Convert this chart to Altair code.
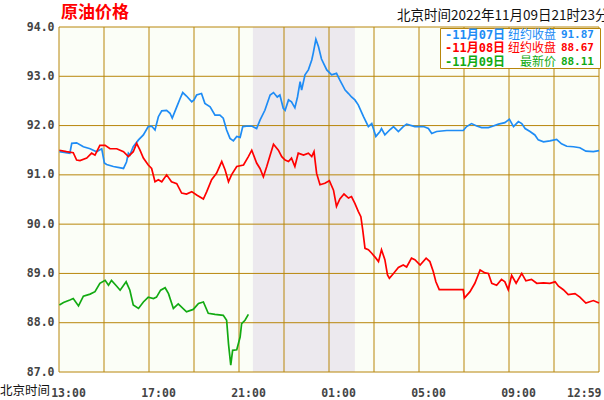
import altair as alt
import pandas as pd

# ---------------- data ----------------
# minutes since 13:00 (Beijing time), 0 .. 1440
blue_min = [1,29,34,47,65,83,100,114,121,127,145,172,180,185,189,198,212,225,238,247,
            256,265,274,287,296,302,314,323,330,340,354,360,367,380,389,403,416,429,438,447,
            456,465,474,483,490,500,514,527,536,549,563,572,582,589,598,603,612,620,629,636,
            643,647,656,665,674,678,685,692,700,714,727,740,749,763,772,780,789,798,812,825,
            834,845,856,860,869,883,892,905,918,927,949,972,985,994,1007,1034,1078,1087,1100,1114,
            1127,1145,1158,1172,1189,1201,1212,1225,1234,1243,1256,1269,1278,1292,1309,1327,1340,1354,1372,1389,
            1405,1425,1440]
blue_val = [91.47,91.44,91.64,91.65,91.57,91.53,91.47,91.53,91.24,91.21,
            91.17,91.13,91.26,91.44,91.40,91.57,91.71,91.81,91.98,91.99,
            91.91,92.18,92.30,92.31,92.25,92.15,92.38,92.55,92.67,92.60,
            92.48,92.52,92.62,92.65,92.45,92.38,92.21,92.21,92.15,91.91,
            91.74,91.69,91.78,91.76,91.98,91.99,91.99,91.94,92.11,92.31,
            92.62,92.67,92.58,92.62,92.35,92.31,92.52,92.48,92.36,92.58,
            92.89,92.72,93.03,93.13,93.33,93.47,93.75,93.60,93.35,93.13,
            93.03,93.06,92.92,92.72,92.65,92.58,92.52,92.42,92.18,91.98,
            92.04,91.78,91.88,91.94,91.81,91.92,91.98,91.88,91.98,92.03,
            91.98,91.98,91.94,91.84,91.88,91.90,91.90,91.98,92.04,91.99,
            91.96,91.96,91.99,92.03,92.06,92.13,91.98,92.08,92.04,91.94,
            91.88,91.81,91.71,91.67,91.69,91.72,91.63,91.58,91.57,91.55,
            91.48,91.47,91.49]

red_min = [1,20,38,47,56,74,87,96,109,123,136,154,172,185,198,207,216,225,238,247,
           256,265,274,287,300,314,327,340,354,367,385,394,407,420,434,443,452,460,474,492,
           505,514,527,536,545,554,563,572,585,594,603,612,620,629,638,652,665,674,680,
           687,696,709,721,732,740,749,760,772,780,789,798,805,810,816,825,834,845,852,860,
           869,876,881,892,905,918,927,940,949,963,979,989,998,1005,1014,1078,1081,1096,1109,1123,
           1136,1145,1154,1167,1180,1189,1198,1207,1219,1234,1245,1260,1274,1292,1309,1323,1332,1345,1358,1376,
           1389,1405,1425,1440]
red_val = [91.50,91.47,91.45,91.30,91.29,91.34,91.44,91.40,91.60,91.60,91.53,91.53,91.47,91.37,91.47,91.64,91.50,91.34,91.20,91.13,
           90.86,90.90,90.86,91.00,90.86,90.82,90.63,90.61,90.66,90.59,90.51,90.66,90.90,91.03,91.27,91.10,90.86,91.00,91.17,91.20,
           91.37,91.50,91.24,91.13,90.96,91.17,91.40,91.62,91.50,91.37,91.30,91.27,91.34,91.17,91.44,91.40,91.44,91.37,91.47,
           91.03,90.80,90.83,90.88,90.69,90.36,90.51,90.61,90.53,90.56,90.42,90.26,90.15,89.88,89.51,89.48,89.41,89.31,89.24,89.48,
           89.28,88.97,88.90,89.00,89.12,89.17,89.13,89.31,89.28,89.17,89.31,89.24,89.04,88.83,88.67,88.67,88.50,88.63,88.80,89.07,
           89.01,89.00,88.80,88.76,88.88,88.83,88.67,88.96,88.80,89.00,88.85,88.88,88.80,88.81,88.80,88.83,88.74,88.67,88.57,88.59,
           88.52,88.40,88.45,88.40]

green_min = [1,12,29,38,52,65,83,96,109,123,132,140,154,163,179,189,198,212,225,238,
             252,260,271,283,292,305,318,340,358,372,385,398,416,438,447,452,458,463,474,483,
             487,496,505]
green_val = [88.36,88.41,88.46,88.49,88.34,88.54,88.58,88.63,88.80,88.86,88.76,88.86,88.74,88.66,88.83,88.66,88.36,88.29,88.42,88.52,
             88.49,88.52,88.66,88.71,88.59,88.29,88.38,88.22,88.27,88.39,88.42,88.19,88.17,88.15,88.05,87.57,87.14,87.44,87.45,87.71,
             87.98,88.05,88.17]

shade_start = [517]
shade_end = [789]

x_grid = list(range(0, 1441, 120))
y_grid = [87, 88, 89, 90, 91, 92, 93, 94]
x_label_vals = [0, 240, 480, 720, 960, 1200, 1440]
x_labels = ["13:00", "17:00", "21:00", "01:00", "05:00", "09:00", "12:59"]

legend_dates = ["-11月07日", "-11月08日", "-11月09日"]
legend_kinds = ["纽约收盘", "纽约收盘", "最新价"]
legend_values = ["91.87", "88.67", "88.11"]
colors = ["#1E8CF5", "#FF0000", "#12AA12"]

title_text = "原油价格"
time_text = "北京时间2022年11月09日21时23分"
axis_caption = "北京时间"

GRID = "#B8860B"
MONO = "DejaVu Sans Mono"
CJK = "Noto Sans CJK SC"

# ---------------- chart ----------------
xscale = alt.Scale(domain=[0, 1440], nice=False, zero=False)
yscale = alt.Scale(domain=[87, 94], nice=False, zero=False)

label_expr = "{" + ",".join(f"'{v}':'{t}'" for v, t in zip(x_label_vals, x_labels)) + "}[datum.value]"

x_axis = alt.Axis(values=x_label_vals, labelExpr=label_expr, grid=False, ticks=False, domain=False,
                  labelFont=MONO, labelFontWeight="bold", labelFontSize=11.5, labelColor="#444444",
                  labelPadding=15, labelFlush=False, labelOverlap=False,
                  labelOffset={"condition": {"test": "datum.value >= 1440", "value": 2}, "value": 9},
                  labelAlign={"condition": {"test": "datum.value >= 1440", "value": "right"}, "value": "center"},
                  title=None)
y_axis = alt.Axis(values=y_grid, format=".1f", grid=False, ticks=False, domain=False,
                  labelFont=MONO, labelFontWeight="bold", labelFontSize=11.5, labelColor="#444444",
                  labelPadding=5, labelFlush=False, labelOverlap=False, title=None)

shade = alt.Chart(pd.DataFrame({"s": shade_start, "e": shade_end})).mark_rect(
    color="#ECE9EE").encode(
    x=alt.X("s:Q", scale=xscale, axis=x_axis), x2="e:Q")

vrules = alt.Chart(pd.DataFrame({"g": x_grid})).mark_rule(color=GRID, strokeWidth=1).encode(
    x=alt.X("g:Q", scale=xscale))
hrules = alt.Chart(pd.DataFrame({"g": y_grid})).mark_rule(color=GRID, strokeWidth=1).encode(
    y=alt.Y("g:Q", scale=yscale, axis=y_axis))


def series(mins, vals, color):
    df = pd.DataFrame({"m": mins, "v": vals})
    return alt.Chart(df).mark_line(color=color, strokeWidth=1.7, interpolate="linear").encode(
        x=alt.X("m:Q", scale=xscale), y=alt.Y("v:Q", scale=yscale))


def txt(s, x, y, **kw):
    return alt.Chart(pd.DataFrame({"t": [s]})).mark_text(**kw).encode(
        x=alt.value(x), y=alt.value(y), text="t:N")


layers = [shade, vrules, hrules,
          series(blue_min, blue_val, colors[0]),
          series(red_min, red_val, colors[1]),
          series(green_min, green_val, colors[2])]

# title, time stamp, bottom caption
layers.append(txt(title_text, 2, -14, align="left", baseline="middle", font=CJK,
                  fontSize=17, fontWeight="bold", color="#FF0000"))
layers.append(txt(time_text, 338, -11, align="left", baseline="middle", font=CJK,
                  fontSize=13.5, color="#111111"))
layers.append(txt(axis_caption, -59, 364, align="left", baseline="middle", font=CJK,
                  fontSize=12.5, color="#111111"))

# legend box
layers.append(alt.Chart(pd.DataFrame({"a": [0]})).mark_rect(
    fill="#FFFFFF", stroke=GRID, strokeWidth=1).encode(
    x=alt.value(381.5), x2=alt.value(541.5), y=alt.value(1.5), y2=alt.value(41.5)))
for i in range(3):
    yy = 8 + 13.3 * i
    layers.append(txt(legend_dates[i], 386, yy, align="left", baseline="middle",
                      font=f"{MONO}, {CJK}", fontSize=12, fontWeight="bold", color=colors[i]))
    layers.append(txt(legend_kinds[i], 497, yy, align="right", baseline="middle",
                      font=CJK, fontSize=12, color=colors[i]))
    layers.append(txt(legend_values[i], 535, yy, align="right", baseline="middle",
                      font=MONO, fontSize=11, fontWeight="bold", color=colors[i]))

chart = alt.layer(*layers).properties(
    width=540, height=345,
    autosize=alt.AutoSizeParams(type="none"),
    padding={"left": 59, "top": 27, "right": 5, "bottom": 28},
    background="#FFFFFF",
).configure_view(stroke=None, fill="#FBFEF7")

chart.save("out.html", embed_options={"renderer": "svg", "actions": False})
